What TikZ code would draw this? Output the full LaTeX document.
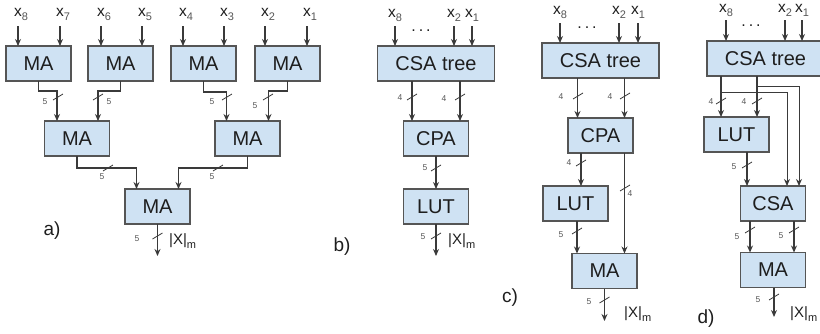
\documentclass[tikz,border=0pt]{standalone}
\usepackage{fontspec}
\setmainfont{Liberation Sans}
\usetikzlibrary{arrows.meta}
\definecolor{boxfill}{HTML}{CFE2F3}
\definecolor{boxline}{HTML}{555555}
\definecolor{wire}{HTML}{3A3A3A}
\definecolor{ink}{HTML}{1E1E1E}
\newcommand{\xin}[1]{x\raisebox{-4pt}{\fontsize{11}{11}\selectfont\color{boxline}#1}}
\newcommand{\modx}{|X|\raisebox{-4pt}{\fontsize{11}{11}\selectfont m}}
\newcommand{\tick}[2]{\draw[tickline] (#1,#2) ++(-5,3) -- ++(10,-6);}
\newcommand{\wdots}{.\hspace{3pt}.\hspace{3pt}.}
\tikzset{
  box/.style={draw=boxline,fill=boxfill,line width=1.3pt,minimum width=65pt,minimum height=35pt,inner sep=0pt,outer sep=0pt,text=ink,font=\fontsize{20}{20}\selectfont},
  wirearrow/.style={draw=wire,line width=1.2pt,-{Stealth[length=7pt,width=6pt]}},
  tickline/.style={draw=wire,line width=0.8pt},
  inlabel/.style={inner sep=0pt,text=ink,font=\fontsize{15.5}{16}\selectfont},
  widthlabel/.style={inner sep=0pt,text=boxline,font=\fontsize{8.5}{9}\selectfont},
  outlabel/.style={inner sep=0pt,text=ink,font=\fontsize{15}{16}\selectfont},
  partlabel/.style={inner sep=0pt,text=ink,font=\fontsize{19}{20}\selectfont},
  dotslabel/.style={inner sep=0pt,text=ink,font=\fontsize{16}{16}\selectfont}
}
\begin{document}
\begin{tikzpicture}[x=1pt,y=-1pt]
\useasboundingbox (0,0) rectangle (820,333);
% ---------- a)
\node[box] (m1) at (38.5,63.5) {MA};
\node[box] (m2) at (120.5,63.5) {MA};
\node[box] (m3) at (203.5,63.5) {MA};
\node[box] (m4) at (287.5,63.5) {MA};
\node[box] (m5) at (77,138.5) {MA};
\node[box] (m6) at (247.5,138.5) {MA};
\node[box] (m7) at (157.5,206.5) {MA};
\foreach \n/\s/\px/\cx in {a8/8/18/m1,a7/7/60/m1,a6/6/101/m2,a5/5/142/m2,a4/4/183/m3,a3/3/224/m3,a2/2/265/m4,a1/1/307/m4}{
  \node[inlabel] (l\n) at (\px+3,14) {\xin{\s}};
  \coordinate (\n) at (\px,26);
  \draw[wirearrow] (\n) -- (\n |- \cx.north);
}
\draw[wirearrow] (m1.south) -- ++(0,10) -| ([xshift=-20pt]m5.north);
\draw[wirearrow] (m2.south) -- ++(0,10) -| ([xshift=21pt]m5.north);
\draw[wirearrow] (m3.south) -- ++(0,11) -| ([xshift=-21pt]m6.north);
\draw[wirearrow] (m4.south) -- ++(0,10) -| ([xshift=21pt]m6.north);
\draw[wirearrow] (m5.south) -- ++(0,12) -| ([xshift=-21pt]m7.north);
\draw[wirearrow] (m6.south) -- ++(0,12) -| ([xshift=21pt]m7.north);
\coordinate (aout) at (157.5,256);
\draw[wirearrow] (m7.south) -- (aout);
\tick{58}{97}\tick{98}{97}\tick{227}{97}\tick{268}{97}\tick{108}{168}\tick{218}{168}\tick{157.5}{236}
\node[widthlabel] (w1) at (45,102) {5};
\node[widthlabel] (w2) at (109,102) {5};
\node[widthlabel] (w3) at (212,102) {5};
\node[widthlabel] (w4) at (255,106) {5};
\node[widthlabel] (w5) at (102,177) {5};
\node[widthlabel] (w6) at (212,177) {5};
\node[widthlabel] (w7) at (137,239) {5};
\node[outlabel,anchor=west] (oa) at (169,241) {\modx};
\node[partlabel] (pa) at (52,231) {a)};
% ---------- b)
\node[box,minimum width=117pt] (bc) at (436,63.5) {CSA tree};
\node[box] (bp) at (436,138.5) {CPA};
\node[box] (bl) at (436,206.5) {LUT};
\foreach \n/\s/\px in {b8/8/395,b2/2/454,b1/1/472}{
  \node[inlabel] (l\n) at (\px,15) {\xin{\s}};
  \coordinate (\n) at (\px,26);
  \draw[wirearrow] (\n) -- (\n |- bc.north);
}
\node[dotslabel] (bd) at (421,31) {\wdots};
\draw[wirearrow] ([xshift=-24pt]bc.south) -- ([xshift=-24pt]bp.north);
\draw[wirearrow] ([xshift=24pt]bc.south) -- ([xshift=24pt]bp.north);
\draw[wirearrow] (bp.south) -- (bl.north);
\coordinate (bout) at (436,256);
\draw[wirearrow] (bl.south) -- (bout);
\tick{412}{97}\tick{460}{97}\tick{436}{168}\tick{436}{236}
\node[widthlabel] (w8) at (400,98) {4};
\node[widthlabel] (w9) at (444,99) {4};
\node[widthlabel] (w10) at (425,168) {5};
\node[widthlabel] (w11) at (423,237) {5};
\node[outlabel,anchor=west] (ob) at (448,241) {\modx};
\node[partlabel] (pb) at (342,247) {b)};
% ---------- c)
\node[box,minimum width=117pt] (cc) at (600.5,60.5) {CSA tree};
\node[box] (cp) at (600.5,135.5) {CPA};
\node[box] (cl) at (575.5,203.5) {LUT};
\node[box] (cm) at (604.5,271) {MA};
\foreach \n/\s/\px in {c8/8/560,c2/2/619,c1/1/638}{
  \node[inlabel] (l\n) at (\px,12) {\xin{\s}};
  \coordinate (\n) at (\px,23);
  \draw[wirearrow] (\n) -- (\n |- cc.north);
}
\node[dotslabel] (cd) at (587,28) {\wdots};
\draw[wirearrow] ([xshift=-23pt]cc.south) -- ([xshift=-23pt]cp.north);
\draw[wirearrow] ([xshift=24pt]cc.south) -- ([xshift=24pt]cp.north);
\draw[wirearrow] ([xshift=-19.5pt]cp.south) -- ([xshift=5.5pt]cl.north);
\draw[wirearrow] ([xshift=24pt]cp.south) -- ([xshift=20pt]cm.north);
\draw[wirearrow] ([xshift=1.5pt]cl.south) -- ([xshift=-27.5pt]cm.north);
\coordinate (cout) at (604.5,321);
\draw[wirearrow] (cm.south) -- (cout);
\tick{578}{96}\tick{625}{96}\tick{581}{163}\tick{625}{188}\tick{577}{231}\tick{604.5}{300}
\node[widthlabel] (w12) at (561,97) {4};
\node[widthlabel] (w13) at (610,97) {4};
\node[widthlabel] (w14) at (569,163) {4};
\node[widthlabel] (w15) at (630,194) {4};
\node[widthlabel] (w16) at (561,235) {5};
\node[widthlabel] (w17) at (589,302) {5};
\node[outlabel,anchor=west] (oc) at (624,314) {\modx};
\node[partlabel] (pc) at (510,298) {c)};
% ---------- d)
\node[box,minimum width=117pt] (dc) at (765.5,58.5) {CSA tree};
\node[box] (dl) at (736.5,134.5) {LUT};
\node[box] (ds) at (773,203.5) {CSA};
\node[box] (dm) at (773,270) {MA};
\foreach \n/\s/\px in {d8/8/726,d2/2/785,d1/1/802}{
  \node[inlabel] (l\n) at (\px,10) {\xin{\s}};
  \coordinate (\n) at (\px,20);
  \draw[wirearrow] (\n) -- (\n |- dc.north);
}
\node[dotslabel] (dd) at (751,26) {\wdots};
\coordinate (dj1) at (721,92);
\coordinate (dj2) at (757,86);
\draw[wirearrow] (dj1 |- dc.south) -- (dj1 |- dl.north);
\draw[wirearrow] (dj2 |- dc.south) -- (dj2 |- dl.north);
\draw[wirearrow,line width=1pt] (dj1) -| ([xshift=14pt]ds.north);
\draw[wirearrow,line width=1pt] (dj2) -| ([xshift=26pt]ds.north);
\draw[wirearrow] ([xshift=10.5pt]dl.south) -- ([xshift=-26pt]ds.north);
\draw[wirearrow] ([xshift=-23pt]ds.south) -- ([xshift=-23pt]dm.north);
\draw[wirearrow] ([xshift=21pt]ds.south) -- ([xshift=21pt]dm.north);
\coordinate (dout) at (774,317);
\draw[wirearrow] (dout |- dm.south) -- (dout);
\tick{721}{101}\tick{757}{101}\tick{747}{165}\tick{750}{230}\tick{794}{230}\tick{774}{297}
\node[widthlabel] (w18) at (711,102) {4};
\node[widthlabel] (w19) at (744,102) {4};
\node[widthlabel] (w20) at (734,167) {5};
\node[widthlabel] (w21) at (737,237) {5};
\node[widthlabel] (w22) at (781,236) {5};
\node[widthlabel] (w23) at (758,300) {5};
\node[outlabel,anchor=west] (od) at (790,314) {\modx};
\node[partlabel] (pd) at (706,319) {d)};
\end{tikzpicture}
\end{document}
